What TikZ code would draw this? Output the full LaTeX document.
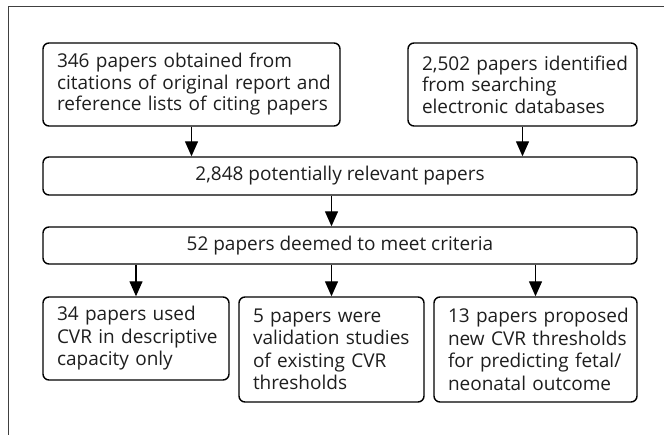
\documentclass[tikz,border=0pt]{standalone}
\usepackage{fontspec}
\setmainfont{Open Sans}
\usetikzlibrary{arrows.meta}
\definecolor{txt}{HTML}{1E1E1E}
\begin{document}
\begin{tikzpicture}[x=1pt,y=-1pt,
  box/.style={draw=black, line width=1.4pt, rounded corners=6pt, inner xsep=14pt, inner ysep=0pt,
    align=left, text=txt, font={\fontsize{19}{21.5}\selectfont}},
  bbox/.style={box, font={\fontsize{19}{22.5}\selectfont}},
  cbox/.style={draw=black, line width=1.4pt, rounded corners=6pt, inner sep=0pt,
    align=center, text=txt, font={\fontsize{19}{21.5}\selectfont}},
  arr/.style={line width=1.3pt, -{Triangle[length=15pt,width=13pt]}}]
\useasboundingbox (0,0) rectangle (664,435);
\draw[line width=1pt, black!75] (8,435) -- (8,7) -- (664,7);
\node[box, minimum width=297pt, minimum height=83pt, text width=269pt] (b1) at (191.5,84.5)
  {\mbox{346 papers obtained from}\\\mbox{citations of original report and}\\\mbox{reference lists of citing papers}};
\node[box, minimum width=229pt, minimum height=83pt, text width=201pt] (b2) at (522.5,84.5)
  {\mbox{2,502 papers identified}\\\mbox{from searching}\\\mbox{electronic databases}};
\node[cbox, minimum width=594pt, minimum height=38pt] (b3) at (340,176) {2,848 potentially relevant papers};
\node[cbox, minimum width=594pt, minimum height=37pt] (b4) at (340,245.5) {52 papers deemed to meet criteria};
\node[bbox, minimum width=186pt, minimum height=83pt, text width=158pt] (b5) at (136,338.5)
  {\mbox{34 papers used}\\\mbox{CVR in descriptive}\\\mbox{capacity only}};
\node[bbox, minimum width=185pt, minimum height=105pt, text width=157pt] (b6) at (331.5,349.5)
  {\mbox{5 papers were}\\\mbox{validation studies}\\\mbox{of existing CVR}\\\mbox{thresholds}};
\node[bbox, minimum width=203pt, minimum height=105pt, text width=175pt] (b7) at (535.5,349.5)
  {\mbox{13 papers proposed}\\\mbox{new CVR thresholds}\\\mbox{for predicting fetal/}\\\mbox{neonatal outcome}};
\draw[arr] (b1.south) -- (b1.south |- b3.north);
\draw[arr] (b2.south) -- (b2.south |- b3.north);
\draw[arr] (b3.south -| b6.north) -- (b4.north -| b6.north);
\draw[arr] (b4.south -| b5.north) -- (b5.north);
\draw[arr] (b4.south -| b6.north) -- (b6.north);
\draw[arr] (b4.south -| b7.north) -- (b7.north);
\end{tikzpicture}
\end{document}
